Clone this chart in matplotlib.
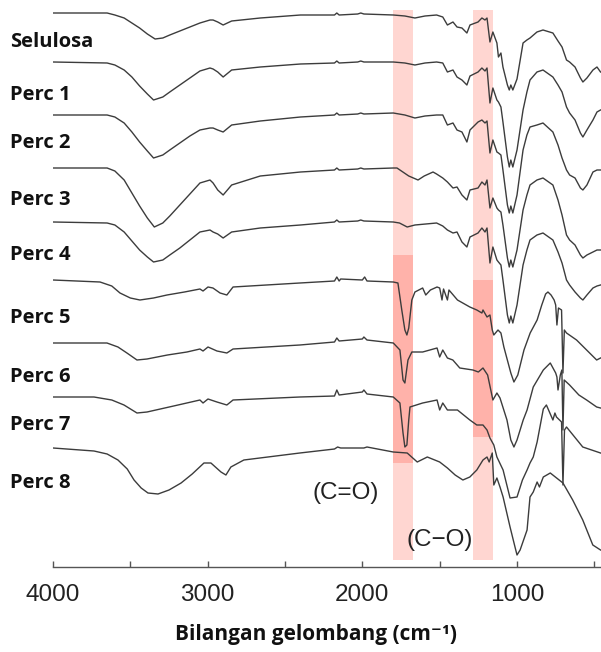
""" FTIR spectra: selulosa and percobaan 1-8 """

import matplotlib.pyplot as plt

# sample names, top to bottom
labels = ['Selulosa', 'Perc 1', 'Perc 2', 'Perc 3', 'Perc 4',
          'Perc 5', 'Perc 6', 'Perc 7', 'Perc 8']

# vertical stacking offset of each spectrum (a.u.)
offsets = [-13, -62, -115, -168, -222, -280, -343, -397, -448]

# (wavenumber cm-1, relative transmittance a.u.)
sel = [(4000, 0), (3650, 0), (3600, -2), (3540, -5), (3490, -10), (3440, -15), (3390, -21),
       (3340, -26), (3290, -25), (3245, -22), (3180, -18), (3115, -14), (3050, -10), (2985, -7),
       (2965, -7), (2935, -9), (2900, -12), (2845, -8), (2660, -5),
       (2400, -2), (2180, -2), (2165, 0), (2150, -2), (2030, -1), (2010, 0), (1990, -1),
       (1800, -2), (1725, -3), (1660, -5), (1595, -3), (1520, -2), (1480, -4), (1450, -12),
       (1414, -9), (1388, -14), (1356, -15), (1324, -20), (1304, -12), (1252, -9), (1227, -5),
       (1207, -7), (1194, -5), (1175, -29), (1156, -19), (1130, -30), (1120, -44), (1104, -40),
       (1091, -54), (1062, -72), (1050, -77), (1040, -72), (1027, -77), (1000, -66), (961, -30),
       (936, -27), (916, -25), (871, -19), (832, -17), (768, -20), (735, -28), (709, -34),
       (680, -47), (660, -49), (625, -54), (590, -65), (574, -69), (548, -65), (509, -57),
       (483, -54), (460, -59)]

perc1 = [(4000, 0), (3650, -1), (3600, -3), (3540, -8), (3490, -15), (3440, -24), (3390, -32),
         (3350, -38), (3290, -35), (3245, -30), (3180, -23), (3115, -16), (3050, -9), (2985, -6),
         (2965, -7), (2935, -10), (2900, -15), (2845, -8), (2660, -5),
         (2400, -2), (2180, -1), (2165, 1), (2150, -1), (2030, 0), (2010, 1), (1990, 0),
         (1800, 0), (1725, -1), (1660, -3), (1595, -1), (1520, 0), (1480, -1), (1450, -10),
         (1414, -8), (1388, -15), (1356, -18), (1324, -23), (1304, -14), (1252, -10), (1227, -6),
         (1207, -9), (1194, -6), (1175, -41), (1156, -26), (1130, -38), (1120, -40), (1104, -45),
         (1091, -60), (1062, -95), (1050, -105), (1040, -98), (1027, -105), (1000, -88), (961, -48),
         (936, -30), (916, -18), (871, -10), (832, -8), (768, -15), (735, -23), (709, -30),
         (680, -45), (660, -51), (625, -58), (590, -71), (574, -75), (548, -68), (509, -58),
         (483, -50), (460, -48)]

perc2 = [(4000, 0), (3650, 0), (3600, -2), (3540, -8), (3490, -17), (3440, -27), (3390, -36),
         (3350, -43), (3290, -40), (3245, -35), (3180, -28), (3115, -21), (3050, -15), (2985, -13),
         (2965, -13), (2935, -15), (2900, -17), (2845, -10), (2660, -6),
         (2400, -2), (2180, 0), (2165, 2), (2150, 0), (2030, 1), (2010, 2), (1990, 1),
         (1800, 2), (1725, 0), (1660, -3), (1595, -1), (1520, 0), (1480, 0), (1450, -10),
         (1414, -8), (1388, -15), (1356, -17), (1324, -27), (1304, -15), (1252, -7), (1227, -5),
         (1207, -8), (1194, -6), (1175, -38), (1156, -25), (1130, -37), (1120, -38), (1104, -40),
         (1091, -55), (1062, -90), (1050, -98), (1040, -91), (1027, -98), (1000, -80), (961, -35),
         (936, -20), (916, -12), (871, -10), (832, -8), (768, -17), (735, -30), (709, -43),
         (680, -55), (660, -60), (625, -63), (590, -73), (574, -75), (548, -70), (509, -57),
         (483, -55), (460, -55)]

perc3 = [(4000, 0), (3650, 0), (3600, -3), (3540, -12), (3490, -25), (3440, -38), (3390, -50),
         (3345, -59), (3290, -55), (3245, -48), (3180, -37), (3115, -26), (3050, -15), (2985, -12),
         (2965, -15), (2935, -22), (2900, -27), (2845, -17), (2660, -8),
         (2400, -4), (2180, -2), (2165, 0), (2150, -2), (2030, -1), (2010, 0), (1990, -1),
         (1800, 0), (1776, 0), (1700, -8), (1640, -12), (1600, -8), (1543, -4), (1520, -6),
         (1480, -10), (1450, -14), (1414, -20), (1388, -19), (1356, -27), (1324, -32), (1304, -22),
         (1252, -20), (1227, -14), (1207, -17), (1194, -12), (1175, -40), (1156, -30), (1130, -40),
         (1120, -42), (1104, -44), (1091, -57), (1062, -90), (1050, -99), (1040, -92), (1027, -99),
         (1000, -82), (961, -42), (936, -27), (916, -17), (871, -12), (832, -10), (768, -17),
         (735, -32), (709, -47), (680, -67), (660, -72), (625, -77), (590, -87), (574, -90),
         (548, -87), (509, -84), (483, -82), (460, -82)]

perc4 = [(4000, 0), (3650, -1), (3600, -3), (3540, -10), (3490, -19), (3440, -28), (3390, -35),
         (3350, -40), (3290, -38), (3245, -33), (3180, -26), (3115, -18), (3050, -10), (2985, -8),
         (2965, -10), (2935, -12), (2900, -16), (2845, -10), (2660, -6),
         (2400, -3), (2180, 0), (2165, 2), (2150, 0), (2030, 1), (2010, 2), (1990, 1),
         (1800, 0), (1760, -1), (1710, -5), (1660, -3), (1520, -1), (1480, -4), (1450, -8),
         (1414, -11), (1388, -10), (1356, -20), (1324, -25), (1304, -15), (1252, -11), (1227, -6),
         (1207, -10), (1194, -6), (1175, -41), (1156, -25), (1130, -38), (1120, -40), (1104, -43),
         (1091, -58), (1062, -93), (1050, -101), (1040, -94), (1027, -101), (1000, -83), (961, -43),
         (936, -28), (916, -18), (871, -13), (832, -11), (768, -18), (735, -30), (709, -41),
         (680, -58), (660, -63), (625, -70), (590, -76), (574, -78), (548, -73), (509, -66),
         (483, -64), (460, -63)]

perc5 = [(4000, 0), (3696, -2), (3620, -6), (3567, -13), (3500, -18), (3438, -20), (3350, -18),
         (3263, -15), (3150, -12), (3050, -9), (3030, -11),
         (2998, -7), (2966, -8), (2920, -13), (2876, -15), (2836, -7), (2404, -3), (2180, -1),
         (2165, 3), (2150, -1), (2140, 1), (2000, 0), (1985, 3), (1970, -1), (1800, -2),
         (1770, -3), (1745, -30), (1725, -50), (1712, -55), (1700, -48), (1680, -20), (1660, -12),
         (1610, -8), (1590, -15), (1560, -10), (1517, -7), (1500, -8), (1485, -20), (1475, -9),
         (1450, -20), (1440, -10), (1385, -20), (1305, -27), (1260, -30), (1227, -33), (1220, -30),
         (1194, -37), (1175, -35), (1160, -50), (1150, -55), (1123, -50), (1104, -53), (1085, -67),
         (1040, -93), (1020, -102), (995, -95), (955, -70), (915, -53), (870, -40), (840, -25),
         (815, -14), (800, -12), (780, -15), (760, -20), (750, -25), (742, -45), (732, -28),
         (712, -30), (703, -93), (694, -50), (680, -53), (615, -60), (550, -70), (485, -80),
         (460, -78)]

perc6 = [(4000, 0), (3651, 0), (3580, -4), (3522, -10), (3457, -17), (3392, -16), (3260, -12),
         (3134, -9), (3050, -6),
         (3030, -8), (2998, -4), (2940, -8), (2876, -10), (2836, -6), (2404, -2), (2180, 1),
         (2165, 5), (2150, 2), (2000, 4), (1990, 6), (1970, 3), (1800, 0), (1757, -7),
         (1737, -37), (1725, -40), (1705, -17), (1680, -9), (1610, -9), (1517, -5), (1500, -14),
         (1480, -7), (1450, -15), (1415, -17), (1370, -25), (1285, -27), (1250, -29), (1220, -25),
         (1190, -32), (1156, -57), (1130, -50), (1110, -55), (1065, -77), (1040, -97), (1020, -104),
         (1000, -97), (960, -77), (935, -67), (895, -44), (830, -27), (785, -20), (750, -30),
         (742, -34), (735, -47), (720, -32), (710, -27), (703, -87), (695, -37), (660, -42),
         (600, -52), (550, -57), (485, -64), (460, -65)]

perc7 = [(4000, 0), (3735, 0), (3620, -3), (3541, -8), (3457, -16), (3392, -15), (3220, -9),
         (3050, -3), (3030, -6),
         (2998, -2), (2940, -5), (2876, -8), (2836, -3), (2404, 0), (2180, 1), (2165, 7),
         (2150, 2), (2000, 5), (1990, 7), (1970, 3), (1800, 0), (1757, -6), (1737, -36),
         (1725, -50), (1712, -48), (1700, -23), (1692, -10), (1610, -6), (1517, -3), (1500, -13),
         (1480, -6), (1450, -13), (1385, -13), (1305, -23), (1260, -28), (1220, -28), (1194, -33),
         (1175, -41), (1150, -48), (1130, -60), (1090, -73), (1045, -101), (1000, -100), (965, -83),
         (935, -73), (916, -66), (895, -60), (870, -45), (830, -12), (810, -8), (768, -23),
         (755, -16), (745, -20), (712, -25), (703, -88), (693, -33), (680, -30), (575, -50),
         (460, -56)]

perc8 = [(4000, 0), (3735, -3), (3650, -6), (3580, -12), (3520, -21), (3476, -32), (3430, -40),
         (3386, -45), (3321, -46), (3250, -42), (3172, -35), (3100, -26), (3024, -15),
         (2979, -15), (2914, -24), (2882, -27), (2850, -19), (2766, -12), (2404, -5),
         (2180, -1), (2160, 1), (2140, 0), (1990, 0), (1970, 1), (1800, -4), (1710, -5),
         (1645, -14), (1580, -9), (1500, -14), (1450, -20), (1400, -27), (1350, -32), (1305, -29),
         (1260, -22), (1220, -12), (1194, -9), (1180, -14), (1160, -5), (1150, -37), (1130, -30),
         (1110, -39), (1090, -49), (1045, -79), (1013, -99), (1000, -107), (980, -102), (935, -82),
         (916, -49), (895, -44), (870, -34), (855, -39), (830, -29), (785, -25), (703, -35),
         (640, -52), (575, -72), (510, -97), (460, -102)]

spectra = [sel, perc1, perc2, perc3, perc4, perc5, perc6, perc7, perc8]

# highlighted regions (cm-1): C=O and C-O
bands = [(1800, 1670), (1282, 1155)]
band_names = ['(C=O)', '(C\u2212O)']

fig = plt.figure(figsize=(6.01, 6.52), dpi=100)
ax = fig.add_axes([53 / 601, 85 / 652, 548 / 601, 567 / 652])

# shaded bands, darker part over the ester samples
ax.fill_between(bands[0], -560, -10, color='#ffd6d1', lw=0, zorder=0)
ax.fill_between(bands[1], -560, -10, color='#ffd6d1', lw=0, zorder=0)
ax.fill_between(bands[0], -463, -255, color='#ffb2aa', lw=0, zorder=1)
ax.fill_between(bands[1], -437, -280, color='#ffb2aa', lw=0, zorder=1)

for spec, off in zip(spectra, offsets):
    wn = [p[0] for p in spec]
    t = [p[1] + off for p in spec]
    ax.plot(wn, t, color='#3c3c3c', lw=1.0, zorder=3)

# sample names on the left
baselines = [47, 100, 148, 205, 260, 323, 382, 430, 488]
for name, yb in zip(labels, baselines):
    fig.text(10 / 601, 1 - yb / 652, name, ha='left', va='baseline',
             fontfamily='Open Sans', fontweight='bold', fontsize=14.5, color='#111111')

ax.text(2106, -493, band_names[0], ha='center', va='center',
        fontfamily='Liberation Sans', fontsize=17.5, color='#222222')
ax.text(1498, -540, band_names[1], ha='center', va='center',
        fontfamily=['Liberation Sans', 'DejaVu Sans'], fontsize=17.5, color='#222222')

ax.set_xlim(4000, 457)
ax.set_ylim(-567, 0)
ax.set_xticks([4000, 3500, 3000, 2500, 2000, 1500, 1000, 500])
ax.set_xticklabels(['4000', '', '3000', '', '2000', '', '1000', ''])
ax.tick_params(axis='x', direction='in', length=4, width=1, color='#555555', pad=12,
               labelsize=17.5, labelcolor='#222222')
for lab in ax.get_xticklabels():
    lab.set_fontfamily('Liberation Sans')
ax.set_yticks([])
for s in ['top', 'right', 'left']:
    ax.spines[s].set_visible(False)
ax.spines['bottom'].set_color('#555555')
ax.spines['bottom'].set_linewidth(1)

ax.set_xlabel('Bilangan gelombang (cm\u207b\u00b9)', fontfamily=['Open Sans', 'DejaVu Sans'],
              fontweight='bold', fontsize=15, color='#111111')
ax.xaxis.set_label_coords(0.48, -0.100)

fig.savefig('out.png', dpi=100)
